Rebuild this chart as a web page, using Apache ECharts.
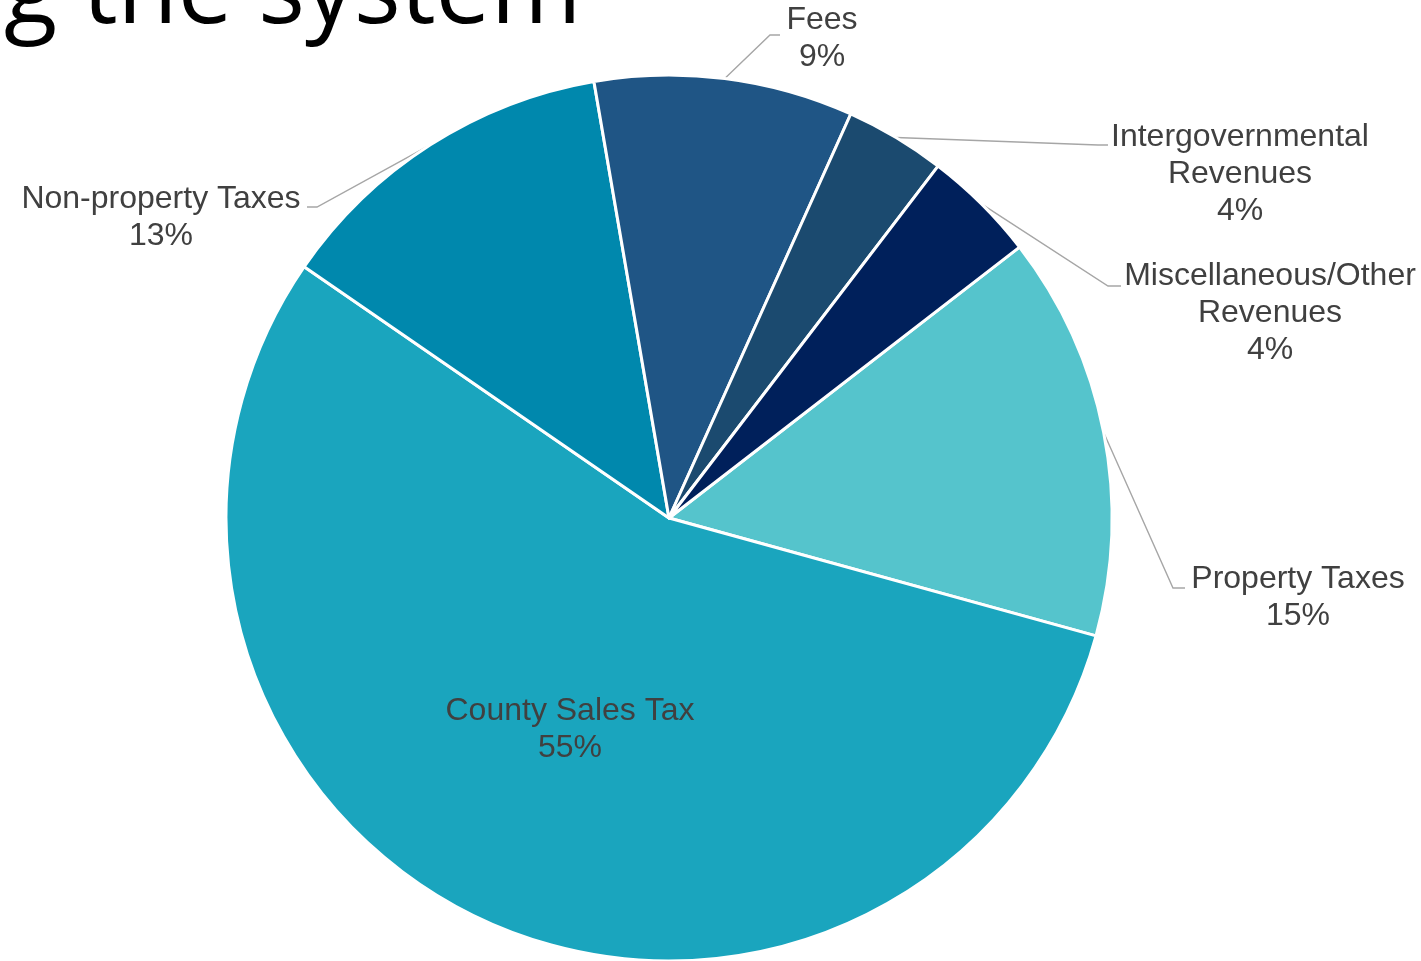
<!DOCTYPE html>
<html><head><meta charset="utf-8">
<script src="https://cdn.jsdelivr.net/npm/echarts@6/dist/echarts.min.js"></script>
<style>html,body{margin:0;padding:0;background:#fff;overflow:hidden}#c{width:1421px;height:961px}</style>
</head><body><div id="c"></div>
<script>
// ---- data ----
const categories = ['Property Taxes', 'County Sales Tax', 'Non-property Taxes', 'Fees', 'Intergovernmental Revenues', 'Miscellaneous/Other Revenues'];
const values = [14.76, 55.32, 12.69, 9.44, 3.66, 4.14];
const titleText = 'g the system';

// ---- styling / layout ----
const colors = ['#55C4CC', '#1AA5BE', '#0088AD', '#1F5585', '#1B4A6F', '#00205B'];
const labelPlacement = [
  { x: 1298, y: 598, lineY: 588, elbowX: 1173, endX: 1185 },
  { x: 570, y: 730 },
  { x: 161, y: 218, lineY: 207, elbowX: 317, endX: 307 },
  { x: 822, y: 39, lineY: 35, elbowX: 770, endX: 780 },
  { x: 1240, y: 174, lineY: 145, elbowX: 1098, endX: 1108 },
  { x: 1270, y: 313, lineY: 286, elbowX: 1108, endX: 1121 }
];

const chart = echarts.init(document.getElementById('c'), null, { renderer: 'canvas' });
const data = categories.map((name, i) => {
  const item = { name: name, value: values[i], itemStyle: { color: colors[i] } };
  if (i === 1) {
    item.label = { position: 'inside' };
    item.labelLine = { show: false };
  }
  return item;
});

chart.setOption({
  animation: false,
  graphic: [{
    type: 'text', x: 4, y: -5, silent: true,
    style: { text: titleText, font: '98px "Open Sans"', fill: '#000', align: 'left', verticalAlign: 'middle' }
  }],
  series: [{
    type: 'pie',
    center: [669, 518],
    radius: 443,
    startAngle: 37.7,
    clockwise: true,
    percentPrecision: 0,
    avoidLabelOverlap: false,
    emphasis: { disabled: true },
    itemStyle: { borderColor: '#ffffff', borderWidth: 3 },
    label: {
      show: true,
      position: 'outside',
      formatter: p => p.name.replace(' Revenues', '\nRevenues') + '\n' + p.percent + '%',
      color: '#404040',
      fontFamily: '"Liberation Sans", Arial, sans-serif',
      fontSize: 32,
      lineHeight: 37,
      width: 440,
      overflow: 'none',
      align: 'center'
    },
    labelLine: { show: true, smooth: false, lineStyle: { color: '#A6A6A6', width: 1.4 } },
    labelLayout: function (params) {
      const pl = labelPlacement[params.dataIndex];
      const out = { x: pl.x, y: pl.y, align: 'center', verticalAlign: 'middle' };
      if (pl.lineY != null && params.labelLinePoints && params.labelLinePoints.length) {
        const p0 = params.labelLinePoints[0];
        out.labelLinePoints = [[p0[0], p0[1]], [pl.elbowX, pl.lineY], [pl.endX, pl.lineY]];
      }
      return out;
    },
    data: data
  }]
});
</script>
</body></html>
